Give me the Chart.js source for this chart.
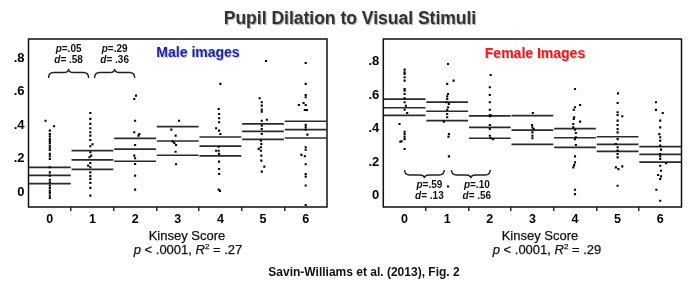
<!DOCTYPE html>
<html>
<head>
<meta charset="utf-8">
<script src="https://cdn.jsdelivr.net/npm/chart.js@4.4.1/dist/chart.umd.min.js"></script>
<style>
  body { margin: 0; background: #fff; width: 700px; height: 282px; position: relative; overflow: hidden;
         font-family: "Liberation Sans", Arial, sans-serif; }
  canvas { position: absolute; top: 0; }
  .t { position: absolute; white-space: nowrap; transform: translateX(-50%); line-height: 1; color: #111; }
  .title { font-size: 17.5px; font-weight: bold; color: #333; text-shadow: 1px 1px 1px #aaa; }
  .panel { font-size: 14px; font-weight: bold; text-shadow: 1px 1px 1px #bbb; }
  .axis { font-size: 13px; -webkit-text-stroke: 0.25px #111; }
  .src { font-size: 12px; font-weight: bold; }
  sup { font-size: 8px; vertical-align: 5px; }
</style>
</head>
<body>
<canvas id="male" width="350" height="230" style="left:0"></canvas>
<canvas id="female" width="350" height="230" style="left:350px"></canvas>

<div class="t title" style="left:350px;top:10px">Pupil Dilation to Visual Stimuli</div>
<div class="t panel" style="left:198px;top:45px;color:#1e1eb4">Male images</div>
<div class="t panel" style="left:535px;top:46px;color:#ee1a1a">Female Images</div>
<div class="t axis" style="left:187px;top:229px">Kinsey Score</div>
<div class="t axis" style="left:188px;top:243px"><i>p</i> &lt; .0001, <i>R</i><sup>2</sup> = .27</div>
<div class="t axis" style="left:540px;top:229px">Kinsey Score</div>
<div class="t axis" style="left:547px;top:243px"><i>p</i> &lt; .0001, <i>R</i><sup>2</sup> = .29</div>
<div class="t src" style="left:364px;top:266px">Savin-Williams et al. (2013), Fig. 2</div>

<script>
const kinsey = [0, 1, 2, 3, 4, 5, 6];
const yTicks = [0, 0.2, 0.4, 0.6, 0.8];
const yTickLabels = ['0', '.2', '.4', '.6', '.8'];

// group mean and the upper / lower band lines
const maleMean = [0.101, 0.193, 0.257, 0.306, 0.275, 0.364, 0.374];
const maleHi   = [0.149, 0.248, 0.322, 0.392, 0.330, 0.408, 0.424];
const maleLo   = [0.051, 0.137, 0.185, 0.221, 0.217, 0.316, 0.324];
const femaleMean = [0.525, 0.504, 0.408, 0.392, 0.346, 0.307, 0.247];
const femaleHi   = [0.576, 0.558, 0.476, 0.478, 0.400, 0.352, 0.293];
const femaleLo   = [0.480, 0.448, 0.343, 0.307, 0.289, 0.265, 0.201];

// pairwise tests between 0-1 and 1-2
const maleP = ['.05', '.29'];
const maleD = ['.58', '.36'];
const femaleP = ['.59', '.10'];
const femaleD = ['.13', '.56'];

// individual participants [kinsey score (with jitter), dilation]
const maleDots = [
  [-0.1,.427],[0.1,.394],[0,.368],[0,.348],[0,.334],[0,.318],[0,.306],[0,.293],[0,.278],[0,.266],[0,.253],
  [0,.229],[0,.215],[0,.199],[0,.149],[0,.119],[0,.099],[0,.075],[0,.06],[0,.04],[0,.026],[0,.01],[0,-.004],[0,-.02],[0,-.034],
  [0.95,.473],[0.95,.438],[0.95,.408],[0.95,.382],[0.95,.358],[0.95,.338],[0.95,.312],[1.0,.287],[0.95,.275],[0.95,.239],
  [0.97,.219],[0.93,.209],[0.95,.175],[0.9,.159],[0.95,.149],[0.95,.119],[0.95,.096],[0.95,.079],[0.95,.056],[0.95,.026],[0.95,-.02],
  [2.02,.577],[1.98,.557],[2,.427],[1.98,.358],[2.1,.348],[2.08,.338],[2,.282],[1.98,.219],[2,.203],[2,.169],[2,.099],[2,.016],
  [3.03,.427],[2.85,.374],[2.95,.338],[2.88,.304],[2.92,.294],[2.96,.282],[2.95,.242],[2.96,.167],
  [4,.647],[3.96,.497],[3.97,.467],[3.97,.442],[3.97,.418],[3.9,.382],[3.97,.368],[4,.348],[3.96,.272],[3.9,.248],
  [3.96,.248],[3.97,.229],[3.97,.183],[3.97,.139],[3.97,.109],[3.96,.016],[3.99,.008],
  [5.07,.784],[4.92,.561],[4.97,.537],[4.97,.517],[4.97,.493],[4.97,.481],[5.09,.433],[4.97,.427],[4.97,.398],[4.97,.378],
  [4.97,.348],[4.95,.308],[4.96,.288],[4.95,.269],[4.9,.259],[4.95,.248],[4.96,.219],[4.96,.189],[5.03,.153],[4.97,.123],
  [6,.772],[6,.647],[6,.581],[6,.567],[5.95,.533],[6,.521],[5.84,.521],[5.98,.491],[6.03,.491],[6,.402],[6,.388],
  [6,.374],[6.04,.344],[6,.269],[6,.254],[5.9,.223],[5.98,.215],[6,.167],[6,.109],[6,.093],[6,.04],[6,-.076]
];
const femaleDots = [
  [0,.752],[0,.737],[0,.727],[0,.707],[0,.687],[0,.637],[0,.627],[0,.607],[0,.581],[0,.558],[0.03,.537],[0,.513],
  [0.06,.494],[-0.12,.428],[0,.382],[0,.368],[0,.352],[0,.338],[-0.07,.325],[-0.1,.322],[0,.279],
  [1.02,.786],[1.15,.687],[1,.667],[1.02,.607],[1,.593],[1,.577],[0.98,.558],[1.04,.547],[1.02,.528],[1,.513],
  [1,.488],[1,.468],[0.92,.442],[1.04,.368],[1.03,.352],[1.04,.235],[1.02,.055],
  [2.02,.72],[2,.647],[2,.601],[2,.558],[2,.513],[2,.482],[2.03,.478],[2,.474],[2,.422],[2,.398],[2,.358],[2.02,.344],[2.08,.338],
  [3.01,.494],[2.99,.422],[3,.408],[3.03,.398],[3,.378],[3,.358],[3,.343],
  [4,.637],[4.12,.541],[4,.528],[3.97,.513],[3.98,.468],[3.97,.458],[4.12,.442],[3.96,.428],[3.96,.408],[4,.394],
  [4.02,.374],[4.02,.349],[4,.338],[4.02,.303],[4,.235],[4,.199],[3.98,.183],[3.96,.169],[4,.036],[4,.01],
  [5.01,.611],[5,.553],[5,.498],[5,.482],[5.11,.474],[5,.448],[5,.422],[5,.398],[5,.378],[5,.338],
  [4.96,.309],[5,.289],[5,.269],[5,.249],[5,.229],[4.96,.169],[5.02,.159],[5.11,.175],[5,.06],
  [5.9,.558],[5.9,.512],[6.06,.494],[6,.448],[6,.408],[5.98,.368],[6,.349],[6,.329],[6,.299],[6.02,.275],[6,.249],
  [6,.235],[6,.219],[6.14,.195],[6,.179],[6.02,.149],[5.95,.124],[6.02,.116],[6,.1],[5.91,.036],[6,-.03]
];

const FONT = '"Liberation Sans", Arial, sans-serif';

function bandSet(vals) {
  const pts = [];
  vals.forEach((v, i) => {
    pts.push({x: kinsey[i] - 0.49, y: v}, {x: kinsey[i] + 0.49, y: v}, {x: kinsey[i] + 0.5, y: null});
  });
  return {type: 'line', data: pts, showLine: true, spanGaps: false, borderColor: '#2b2b2b',
          borderWidth: 1.7, pointRadius: 0, order: 1};
}

// frame round the plot area plus the curly braces with their test results
const notesPlugin = {
  id: 'notes',
  afterDraw(chart, args, opts) {
    const {ctx, chartArea: a, scales: {x, y}} = chart;
    ctx.save();
    ctx.strokeStyle = '#111';
    ctx.lineWidth = 1.5;
    ctx.strokeRect(a.left, a.top, a.right - a.left, a.bottom - a.top);

    (opts.braces || []).forEach((b, i) => {
      const x1 = x.getPixelForValue(b.from), x2 = x.getPixelForValue(b.to);
      const xm = (x1 + x2) / 2;
      const yE = y.getPixelForValue(b.ends), yB = y.getPixelForValue(b.bar), yT = y.getPixelForValue(b.tip);
      const r = 5;
      ctx.beginPath();
      ctx.strokeStyle = '#222';
      ctx.lineWidth = 1.4;
      ctx.moveTo(x1, yE);
      ctx.quadraticCurveTo(x1, yB, x1 + r, yB);
      ctx.lineTo(xm - r, yB);
      ctx.quadraticCurveTo(xm, yB, xm, yT);
      ctx.quadraticCurveTo(xm, yB, xm + r, yB);
      ctx.lineTo(x2 - r, yB);
      ctx.quadraticCurveTo(x2, yB, x2, yE);
      ctx.stroke();

      const cx = xm + (b.textDx || 0);
      const lines = [['p', '=' + opts.p[i], b.pAt], ['d', '= ' + opts.d[i], b.dAt]];
      ctx.fillStyle = '#111';
      ctx.textBaseline = 'middle';
      lines.forEach(([sym, rest, at]) => {
        ctx.font = 'italic bold 10px ' + FONT;
        const w1 = ctx.measureText(sym).width;
        ctx.font = 'bold 10px ' + FONT;
        const w2 = ctx.measureText(rest).width;
        const left = cx - (w1 + w2) / 2;
        const yy = y.getPixelForValue(at);
        ctx.font = 'italic bold 10px ' + FONT;
        ctx.textAlign = 'left';
        ctx.fillText(sym, left, yy);
        ctx.font = 'bold 10px ' + FONT;
        ctx.fillText(rest, left + w1, yy);
      });
    });
    ctx.restore();
  }
};

function makePanel(id, o) {
  return new Chart(document.getElementById(id), {
    type: 'scatter',
    data: {
      datasets: [
        {data: o.dots.map(d => ({x: d[0], y: d[1]})), pointStyle: 'rect', pointRadius: 1.5,
         pointHoverRadius: 1.5, backgroundColor: '#000', borderWidth: 0, order: 0},
        bandSet(o.hi), bandSet(o.mean), bandSet(o.lo)
      ]
    },
    options: {
      responsive: false,
      animation: false,
      events: [],
      layout: {padding: {top: 39, right: o.padRight, left: 0, bottom: 0}},
      plugins: {
        legend: {display: false},
        tooltip: {enabled: false},
        notes: {braces: o.braces, p: o.p, d: o.d}
      },
      scales: {
        x: {
          type: 'linear', min: -0.5, max: 6.5,
          afterBuildTicks: s => {
            s.ticks = [];
            for (let v = -0.5; v <= 6.5; v += 0.5) s.ticks.push({value: v});
          },
          afterFit: s => { s.height = 23; },
          ticks: {autoSkip: false, maxRotation: 0, padding: 1, color: '#000',
                  font: {family: FONT, size: 12.5, weight: 'bold'},
                  callback: v => Number.isInteger(v) ? String(v) : ''},
          grid: {drawOnChartArea: false, drawTicks: true, tickLength: 4, lineWidth: 1.5,
                 color: c => (c.tick && !Number.isInteger(c.tick.value) && c.tick.value > -0.4 && c.tick.value < 6.4)
                   ? '#333' : 'rgba(0,0,0,0)'},
          border: {display: false}
        },
        y: {
          min: o.yMin, max: o.yMax,
          afterBuildTicks: s => { s.ticks = yTicks.map(v => ({value: v})); },
          afterFit: s => { s.width = o.yWidth; },
          ticks: {padding: 4, color: '#000', font: {family: FONT, size: 13, weight: 'bold'},
                  callback: (v, i) => yTickLabels[i]},
          grid: {display: false, drawTicks: false},
          border: {display: false}
        }
      }
    },
    plugins: [notesPlugin]
  });
}

makePanel('male', {
  dots: maleDots, mean: maleMean, hi: maleHi, lo: maleLo, p: maleP, d: maleD,
  yMin: -0.088, yMax: 0.915, yWidth: 28.5, padRight: 23,
  braces: [
    {from: -0.03, to: 0.91, ends: 0.682, bar: 0.715, tip: 0.738, pAt: 0.851, dAt: 0.791},
    {from: 1.05, to: 1.99, ends: 0.682, bar: 0.715, tip: 0.738, pAt: 0.851, dAt: 0.791}
  ]
});

makePanel('female', {
  dots: femaleDots, mean: femaleMean, hi: femaleHi, lo: femaleLo, p: femaleP, d: femaleD,
  yMin: -0.067, yMax: 0.935, yWidth: 33.3, padRight: 18.5,
  braces: [
    {from: 0, to: 0.93, ends: 0.153, bar: 0.124, tip: 0.104, pAt: 0.064, dAt: 0.0, textDx: 5},
    {from: 1.1, to: 2.01, ends: 0.153, bar: 0.124, tip: 0.104, pAt: 0.064, dAt: 0.0, textDx: 6}
  ]
});
</script>
</body>
</html>
